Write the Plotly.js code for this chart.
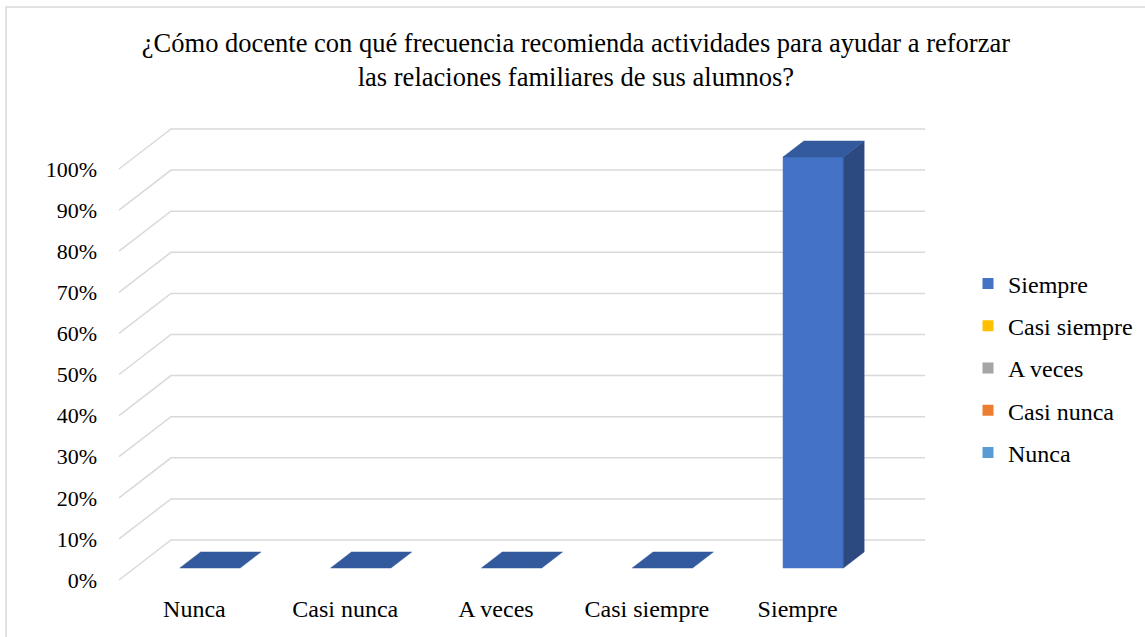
<!DOCTYPE html>
<html>
<head>
<meta charset="utf-8">
<script src="https://cdn.plot.ly/plotly-3.0.1.min.js"></script>
<style>html,body{margin:0;padding:0;background:#fff;}#chart{width:1145px;height:637px;}</style>
</head>
<body>
<div id="chart"></div>
<script>
// ---- data ----
const categories = ['Nunca', 'Casi nunca', 'A veces', 'Casi siempre', 'Siempre'];
const values = [0, 0, 0, 0, 1];
const tickValues = [0, 0.1, 0.2, 0.3, 0.4, 0.5, 0.6, 0.7, 0.8, 0.9, 1.0];
const tickLabels = ['0%', '10%', '20%', '30%', '40%', '50%', '60%', '70%', '80%', '90%', '100%'];
const legendNames = ['Siempre', 'Casi siempre', 'A veces', 'Casi nunca', 'Nunca'];
const legendColors = ['#4472C4', '#FFC000', '#A5A5A5', '#ED7D31', '#5B9BD5'];
const titleText = '¿Cómo docente con qué frecuencia recomienda actividades para ayudar a reforzar<br>las relaciones familiares de sus alumnos?';

// ---- geometry (layout) ----
const W = 1145, H = 637;
const pxL = 104, pxR = 941, pxT = 116, pxB = 592;
const frontLeft = 119, frontRight = 873, zeroPx = 580, hundredPx = 169;
const ux = (frontRight - frontLeft) / categories.length;
const uy = zeroPx - hundredPx;
const xRange = [-0.5 - (frontLeft - pxL) / ux, -0.5 + (pxR - frontLeft) / ux];
const yRange = [-(pxB - zeroPx) / uy, (zeroPx - pxT) / uy];
const DX = 52 / ux, DY = 40 / uy;       // full depth offset of back wall
const dFront = 0.3, dBack = 0.7;       // bar depth span
const halfW = 0.2;                      // half bar width in category units

const font = "'Liberation Serif', 'Times New Roman', serif";
const traces = [];

// gridlines (front-left diagonal then back wall)
tickValues.forEach(v => {
  traces.push({
    type: 'scatter', mode: 'lines', hoverinfo: 'skip', showlegend: false,
    x: [-0.5, -0.5 + DX, categories.length - 0.5 + DX],
    y: [v, v + DY, v + DY],
    line: {color: '#d9d9d9', width: 1.5}
  });
});

// 3D bars
const cFront = '#4472C4', cTop = '#335A9C', cSide = '#2C4A80';
categories.forEach((c, i) => {
  const v = values[i];
  const x0 = i - halfW + dFront * DX, x1 = i + halfW + dFront * DX;
  const yb = dFront * DY, ybB = dBack * DY;
  const ddx = (dBack - dFront) * DX;
  if (v > 0) {
    // front face
    traces.push({type: 'scatter', mode: 'lines', fill: 'toself', hoverinfo: 'skip', showlegend: false,
      x: [x0, x1, x1, x0, x0], y: [yb, yb, v + yb, v + yb, yb],
      fillcolor: cFront, line: {color: cFront, width: 0.5}});
    // side face
    traces.push({type: 'scatter', mode: 'lines', fill: 'toself', hoverinfo: 'skip', showlegend: false,
      x: [x1, x1 + ddx, x1 + ddx, x1, x1], y: [yb, ybB, v + ybB, v + yb, yb],
      fillcolor: cSide, line: {color: cSide, width: 0.5}});
  }
  // top face
  traces.push({type: 'scatter', mode: 'lines', fill: 'toself', hoverinfo: 'skip', showlegend: false,
    x: [x0, x1, x1 + ddx, x0 + ddx, x0], y: [v + yb, v + yb, v + ybB, v + ybB, v + yb],
    fillcolor: cTop, line: {color: cTop, width: 0.5}});
});

// legend entries
legendNames.forEach((n, k) => {
  traces.push({type: 'scatter', mode: 'markers', name: n, legendgroup: 'g' + k,
    x: [null], y: [null], marker: {symbol: 'square', size: 11, color: legendColors[k]}});
});

const plotW = pxR - pxL, plotH = pxB - pxT;
const layout = {
  width: W, height: H,
  margin: {l: pxL, r: W - pxR, t: pxT, b: H - pxB, pad: 0, autoexpand: false},
  paper_bgcolor: '#fff', plot_bgcolor: '#fff',
  font: {family: font, size: 22, color: '#000'},
  title: {text: titleText, font: {family: font, size: 26.5, color: '#000'},
    x: 0.503, xanchor: 'center', y: 1 - 52 / H, yanchor: 'middle'},
  xaxis: {range: xRange, tickmode: 'array', tickvals: categories.map((c, i) => i), ticktext: categories,
    showgrid: false, zeroline: false, showline: false, ticks: '', fixedrange: true, automargin: false,
    tickfont: {family: font, size: 24, color: '#000'}, ticklabelstandoff: 0},
  yaxis: {range: yRange, tickmode: 'array', tickvals: tickValues, ticktext: tickLabels,
    showgrid: false, zeroline: false, showline: false, ticks: '', fixedrange: true, automargin: false,
    tickfont: {family: font, size: 22, color: '#000'}, ticklabelstandoff: 6},
  showlegend: true,
  legend: {x: (968 - pxL) / plotW, xanchor: 'left', y: (pxB - 368) / plotH, yanchor: 'middle',
    font: {family: font, size: 24, color: '#000'}, tracegroupgap: 8, itemclick: false, itemdoubleclick: false,
    bgcolor: 'rgba(0,0,0,0)'},
  shapes: [{type: 'rect', xref: 'paper', yref: 'paper',
    x0: (6 - pxL) / plotW, x1: (1160 - pxL) / plotW, y0: (pxB - 650) / plotH, y1: (pxB - 7) / plotH,
    line: {color: '#d9d9d9', width: 1.5}, fillcolor: 'rgba(0,0,0,0)', layer: 'below'}],
  hovermode: false
};

Plotly.newPlot('chart', traces, layout, {displayModeBar: false, staticPlot: true});
</script>
</body>
</html>
